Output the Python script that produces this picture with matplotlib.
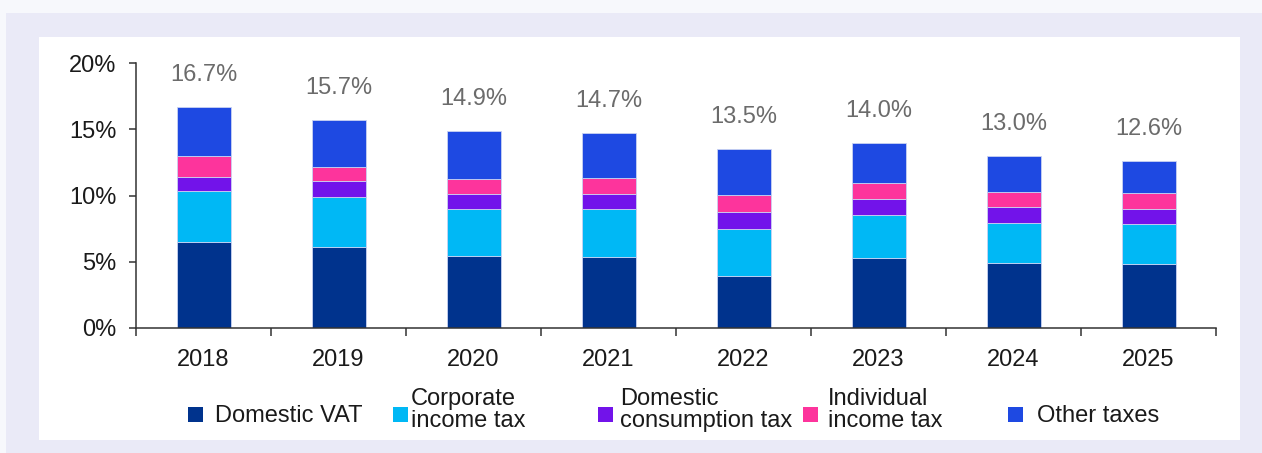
import numpy as np
import matplotlib
matplotlib.use('agg')
import matplotlib.pyplot as plt
from matplotlib.patches import Rectangle

plt.rcParams['font.family'] = ['Liberation Sans', 'DejaVu Sans']

years = ['2018', '2019', '2020', '2021', '2022', '2023', '2024', '2025']
domestic_vat = [6.50, 6.14, 5.46, 5.36, 3.90, 5.31, 4.88, 4.85]
corporate_income_tax = [3.85, 3.75, 3.52, 3.62, 3.57, 3.22, 3.07, 3.00]
domestic_consumption_tax = [1.08, 1.23, 1.16, 1.16, 1.31, 1.18, 1.21, 1.15]
individual_income_tax = [1.58, 1.03, 1.13, 1.21, 1.26, 1.21, 1.08, 1.19]
other_taxes = [3.69, 3.55, 3.63, 3.35, 3.46, 3.08, 2.76, 2.41]

series = [domestic_vat, corporate_income_tax, domestic_consumption_tax,
          individual_income_tax, other_taxes]
series_names = ['Domestic VAT', 'Corporate\nincome tax', 'Domestic\nconsumption tax',
                'Individual\nincome tax', 'Other taxes']
colors = ['#00338D', '#00B8F5', '#7213EA', '#FD349C', '#1E49E2']

W, H = 1262, 453
fig = plt.figure(figsize=(W / 100, H / 100), dpi=100, facecolor='#F7F8FC')


def px(x, y):
    # pixel coords (from top-left) -> figure fraction
    return x / W, 1 - y / H


# background panels
fig.add_artist(Rectangle(px(6, H), (W - 6) / W, (H - 13) / H, transform=fig.transFigure,
                         facecolor='#EAEAF7', edgecolor='none', zorder=-3))
fig.add_artist(Rectangle(px(39, 440), (1240 - 39) / W, (440 - 37) / H, transform=fig.transFigure,
                         facecolor='white', edgecolor='none', zorder=-2))

left, top = px(136, 63)
right, bottom = px(1216, 328)
ax = fig.add_axes([left, bottom, right - left, top - bottom])
ax.patch.set_alpha(0)

x = np.arange(len(years))
base = np.zeros(len(years))
for vals, name, c in zip(series, series_names, colors):
    ax.bar(x, vals, bottom=base, width=0.4, color=c, edgecolor='#c9d2f2', linewidth=0.6,
           label=name, zorder=2)
    base = base + np.array(vals)

totals = base
for xi, t in zip(x, totals):
    ax.annotate(f'{t:.1f}%', (xi, t), xytext=(0, 23), textcoords='offset points',
                ha='center', va='center', fontsize=17, color='#6b6b6b')

ax.set_xlim(-0.5, len(years) - 0.5)
ax.set_ylim(0, 20)
ax.set_yticks([0, 5, 10, 15, 20])
ax.set_yticklabels(['0%', '5%', '10%', '15%', '20%'])
ax.set_xticks(x)
ax.set_xticklabels(years)
ax.set_xticks(np.arange(-0.5, len(years)), minor=True)
ax.tick_params(axis='x', which='major', length=0, pad=15, labelsize=17, colors='#1a1a1a')
ax.tick_params(axis='x', which='minor', length=6, width=1.1, direction='out', color='#333333')
ax.tick_params(axis='y', length=5, width=1.1, pad=9, labelsize=17, colors='#1a1a1a')
ax.tick_params(axis='y', color='#333333')
for s in ['top', 'right']:
    ax.spines[s].set_visible(False)
for s in ['left', 'bottom']:
    ax.spines[s].set_color('#333333')
    ax.spines[s].set_linewidth(1.1)

# legend drawn by hand so the swatches line up with the last text line
swatch_x = [188, 393, 598, 803, 1008]
text_x = [215, 411, 620, 828, 1037]
for sx, tx, name, c in zip(swatch_x, text_x, series_names, colors):
    fig.add_artist(Rectangle(px(sx, 422), 15 / W, 15 / H, transform=fig.transFigure,
                             facecolor=c, edgecolor='none'))
    ty = 410 if '\n' in name else 416
    fig.text(*px(tx, ty), name, ha='left', va='center', fontsize=17,
             color='#1a1a1a', linespacing=1.05)

fig.savefig('out.png', dpi=100, facecolor=fig.get_facecolor())
